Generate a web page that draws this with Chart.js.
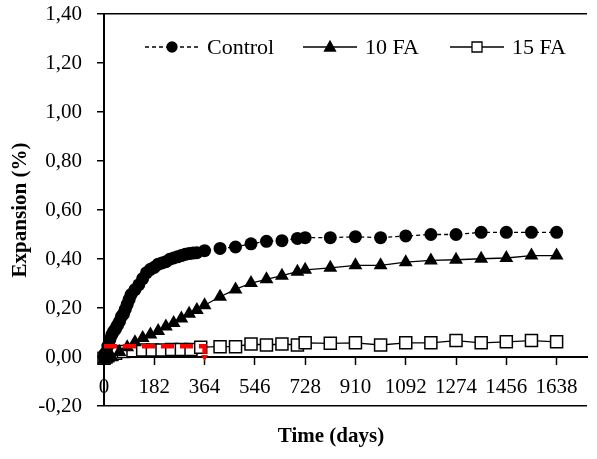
<!DOCTYPE html>
<html>
<head>
<meta charset="utf-8">
<script src="https://cdn.jsdelivr.net/npm/chart.js@4.4.1/dist/chart.umd.min.js"></script>
<style>
  html, body { margin: 0; padding: 0; background: #fff; }
  #chart { display: block; }
</style>
</head>
<body>
<canvas id="chart" width="597" height="459"></canvas>
<script>
// values (days, expansion %)
const controlDays = [0, 7, 14, 21, 28, 35, 42, 49, 56, 63, 70, 77, 84, 91, 98, 112, 126, 140, 154, 168,
    182, 196, 210, 224, 238, 252, 266, 280, 294, 308, 322, 336, 364, 420, 476, 532, 588, 644, 700, 728,
    819, 910, 1001, 1092, 1183, 1274, 1365, 1456, 1547, 1638];
const controlValues = [0.0, 0.018, 0.045, 0.07, 0.09, 0.105, 0.115, 0.13, 0.145, 0.165, 0.175, 0.195, 0.215, 0.235, 0.255, 0.275, 0.295, 0.32, 0.344, 0.358,
    0.366, 0.379, 0.384, 0.389, 0.399, 0.404, 0.409, 0.414, 0.419, 0.422, 0.424, 0.426, 0.434, 0.443, 0.449, 0.462, 0.472, 0.475, 0.484, 0.487,
    0.487, 0.491, 0.487, 0.494, 0.50, 0.50, 0.509, 0.509, 0.509, 0.509];

const fa10Days = [0, 28, 56, 84, 112, 140, 168, 196, 224, 252, 280, 308, 336, 364, 420, 476, 532, 588, 644, 700,
    728, 819, 910, 1001, 1092, 1183, 1274, 1365, 1456, 1547, 1638];
const fa10Values = [-0.01, 0.0, 0.02, 0.04, 0.06, 0.078, 0.092, 0.106, 0.124, 0.139, 0.157, 0.177, 0.192, 0.211, 0.246, 0.276, 0.302, 0.317, 0.332, 0.348,
    0.356, 0.364, 0.374, 0.374, 0.387, 0.394, 0.397, 0.401, 0.404, 0.414, 0.414];

const fa15Days = [0, 7, 14, 28, 42, 70, 105, 140, 175, 210, 245, 280, 315, 350, 420, 476, 532, 588, 644, 700,
    728, 819, 910, 1001, 1092, 1183, 1274, 1365, 1456, 1547, 1638];
const fa15Values = [-0.005, 0.0, 0.005, 0.01, 0.015, 0.022, 0.026, 0.029, 0.029, 0.029, 0.031, 0.031, 0.031, 0.04, 0.042, 0.042, 0.053, 0.049, 0.053, 0.049,
    0.058, 0.056, 0.058, 0.049, 0.058, 0.058, 0.067, 0.058, 0.062, 0.067, 0.062];

// red dashed marker line with arrow at 364 days
const limitDays = [0, 364, 364];
const limitValues = [0.044, 0.044, 0.0];

const xTicks = [0, 182, 364, 546, 728, 910, 1092, 1274, 1456, 1638];

const serif = "'Liberation Serif', 'Times New Roman', serif";

function pts(days, vals) {
    return days.map((d, i) => ({ x: d, y: vals[i] }));
}

// legend drawn like the spreadsheet one: short line with the marker in the middle
const lineLegend = {
    id: "lineLegend",
    afterDraw(chart) {
        const ctx = chart.ctx;
        const starts = [145, 303, 450];
        const y = 47;
        ctx.save();
        chart.data.datasets.filter(ds => ds.inLegend).forEach((ds, i) => {
            const x0 = starts[i];
            const x1 = x0 + 54;
            const xm = (x0 + x1) / 2;
            ctx.strokeStyle = "#000";
            ctx.lineWidth = 1.3;
            ctx.setLineDash(ds.borderDash || []);
            ctx.beginPath();
            ctx.moveTo(x0, y);
            ctx.lineTo(x1, y);
            ctx.stroke();
            ctx.setLineDash([]);
            ctx.beginPath();
            if (ds.pointStyle === "circle") {
                ctx.arc(xm, y, 5, 0, Math.PI * 2);
            } else if (ds.pointStyle === "triangle") {
                ctx.moveTo(xm, y - 6);
                ctx.lineTo(xm + 5.5, y + 4);
                ctx.lineTo(xm - 5.5, y + 4);
                ctx.closePath();
            } else {
                ctx.rect(xm - 5, y - 5, 10, 10);
            }
            ctx.fillStyle = ds.pointBackgroundColor;
            ctx.fill();
            ctx.lineWidth = 1.3;
            ctx.stroke();
            ctx.fillStyle = "#000";
            ctx.font = "22px " + serif;
            ctx.textBaseline = "middle";
            ctx.textAlign = "left";
            ctx.fillText(ds.label, x1 + 8, y + 1);
        });
        ctx.font = "bold 21px " + serif;
        ctx.textAlign = "center";
        ctx.textBaseline = "middle";
        ctx.fillText("Time (days)", 331, 437);
        ctx.restore();
    }
};

// first dataset is drawn on top, so the red line goes first
new Chart(document.getElementById("chart"), {
    type: "line",
    data: {
        datasets: [
            {
                label: "limit",
                inLegend: false,
                data: pts(limitDays, limitValues),
                borderColor: "#ff0000",
                borderWidth: 4.5,
                borderDash: [13, 6],
                pointStyle: "triangle",
                rotation: 180,
                pointRadius: [0, 0, 4],
                pointBackgroundColor: "#ff0000",
                pointBorderWidth: 0,
                clip: false
            },
            {
                label: "Control",
                inLegend: true,
                data: pts(controlDays, controlValues),
                borderColor: "#000",
                borderWidth: 1.3,
                borderDash: [4, 3],
                pointStyle: "circle",
                pointRadius: 6.5,
                pointBackgroundColor: "#000",
                pointBorderColor: "#000",
                pointBorderWidth: 0,
                clip: false
            },
            {
                label: "10 FA",
                inLegend: true,
                data: pts(fa10Days, fa10Values),
                borderColor: "#000",
                borderWidth: 1.3,
                pointStyle: "triangle",
                pointRadius: 8,
                pointBackgroundColor: "#000",
                pointBorderColor: "#000",
                pointBorderWidth: 0,
                clip: false
            },
            {
                label: "15 FA",
                inLegend: true,
                data: pts(fa15Days, fa15Values),
                borderColor: "#000",
                borderWidth: 1.3,
                pointStyle: "rect",
                pointRadius: 8.5,
                pointBackgroundColor: "#fff",
                pointBorderColor: "#000",
                pointBorderWidth: 1.5,
                clip: false
            }
        ]
    },
    options: {
        responsive: false,
        animation: false,
        events: [],
        layout: { padding: { top: 14, right: 0, bottom: 53, left: 0 } },
        elements: { line: { tension: 0 } },
        plugins: {
            legend: { display: false },
            tooltip: { enabled: false }
        },
        scales: {
            x: {
                type: "linear",
                position: { y: 0 },
                min: 0,
                max: 1748,
                afterBuildTicks: s => { s.ticks = xTicks.map(v => ({ value: v })); },
                ticks: {
                    autoSkip: false,
                    maxRotation: 0,
                    padding: 11,
                    color: "#000",
                    font: { family: serif, size: 21 },
                    callback: v => String(v)
                },
                grid: { drawOnChartArea: false, tickLength: 7, tickColor: "#000", tickWidth: 1.5 },
                border: { color: "#000", width: 2 }
            },
            y: {
                min: -0.2,
                max: 1.4,
                afterFit: s => {
                    s.width = 104;
                    s.paddingTop = 0;
                    s.paddingBottom = 0;
                },
                ticks: {
                    stepSize: 0.2,
                    padding: 15,
                    color: "#000",
                    font: { family: serif, size: 21 },
                    callback: v => (Math.abs(v) < 1e-9 ? 0 : v).toFixed(2).replace(".", ",")
                },
                grid: {
                    color: c => (Math.abs(c.tick.value + 0.2) < 1e-6 || Math.abs(c.tick.value - 1.4) < 1e-6) ? "#000" : "rgba(0,0,0,0)",
                    lineWidth: 1.5,
                    tickLength: 7,
                    tickColor: "#000",
                    tickWidth: 1.5
                },
                border: { color: "#000", width: 2 },
                title: {
                    display: true,
                    text: "Expansion (%)",
                    color: "#000",
                    font: { family: serif, size: 21, weight: "bold" },
                    padding: { top: 8, bottom: 0 }
                }
            }
        }
    },
    plugins: [lineLegend]
});
</script>
</body>
</html>
